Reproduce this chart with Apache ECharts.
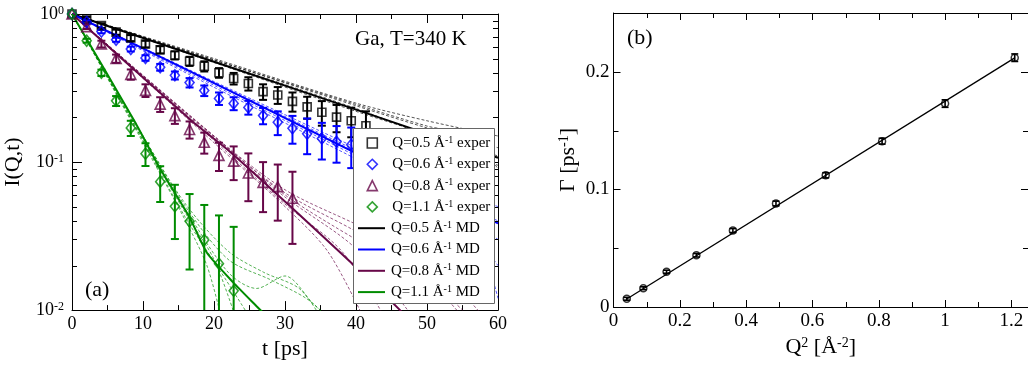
<!DOCTYPE html>
<html><head><meta charset="utf-8">
<script src="https://cdn.jsdelivr.net/npm/echarts@6/dist/echarts.min.js"></script>
<style>html,body{margin:0;padding:0;background:#fff}#c{width:1028px;height:365px}</style>
</head><body><div id="c"></div>
<script>
// ---------- Panel (a) data ----------
const tExp = [0, 2.07, 4.14, 6.21, 8.28, 10.35, 12.42, 14.49, 16.56, 18.63, 20.7, 22.77, 24.84, 26.91, 28.98, 31.05, 33.12, 35.19, 37.26, 39.33, 41.4];
const iExp05 = [1, 0.926, 0.835, 0.754, 0.688, 0.627, 0.574, 0.526, 0.480, 0.444, 0.401, 0.367, 0.339, 0.299, 0.284, 0.257, 0.236, 0.217, 0.201, 0.190, 0.176];
const eExp05 = [0, 0.03, 0.03, 0.03, 0.032, 0.032, 0.032, 0.033, 0.034, 0.035, 0.03, 0.033, 0.035, 0.036, 0.037, 0.038, 0.04, 0.041, 0.042, 0.043, 0.044];
const iExp06 = [1, 0.884, 0.761, 0.670, 0.580, 0.505, 0.437, 0.385, 0.344, 0.304, 0.269, 0.249, 0.234, 0.206, 0.186, 0.169, 0.155, 0.144, 0.137, 0.131, 0.123];
const eExp06 = [0, 0.02, 0.02, 0.021, 0.022, 0.022, 0.023, 0.024, 0.025, 0.025, 0.026, 0.025, 0.025, 0.026, 0.034, 0.036, 0.042, 0.04, 0.038, 0.04, 0.04];
const iExp08 = [1, 0.822, 0.627, 0.500, 0.391, 0.305, 0.246, 0.206, 0.166, 0.136, 0.111, 0.1015, 0.0844, 0.0729, 0.0682, 0.0570];
const eExp08 = [0, 0.03, 0.033, 0.032, 0.031, 0.03, 0.028, 0.025, 0.022, 0.022, 0.024, 0.026, 0.03, 0.027, 0.028, 0.029];
const iExp11 = [1, 0.660, 0.401, 0.259, 0.170, 0.114, 0.0737, 0.0502, 0.0398, 0.0298, 0.0206, 0.0135];
const eExp11 = [0, 0.02, 0.02, 0.02, 0.02, 0.02, 0.02, 0.02, 0.021, 0.0215, 0.023, 0.023];

// MD averaged curves [t, I]
const md05 = [[0, 1], [20, 0.476], [40, 0.226], [60, 0.107]];
const md06 = [[0, 1], [18, 0.381], [39.2, 0.12], [60, 0.0385]];
const md08 = [[0, 1], [17.04, 0.1866], [22.25, 0.1175], [30.7, 0.0504], [39.6, 0.0203], [46.2, 0.01], [47, 0.009]];
const md11 = [[0, 1], [8.87, 0.1866], [12.4, 0.0905], [16.6, 0.0419], [19.0, 0.0244], [22.7, 0.0154], [26.1, 0.0105], [27, 0.0095]];

// individual MD runs (thin dashed)
const runs05 = [
  [[0, 1], [20, 0.49], [40, 0.24], [50, 0.17], [60, 0.125]],
  [[0, 1], [20, 0.50], [40, 0.25], [50, 0.19], [60, 0.15]],
  [[0, 1], [20, 0.48], [40, 0.23], [50, 0.15], [60, 0.095]],
  [[0, 1], [20, 0.47], [40, 0.22], [50, 0.155], [60, 0.11]],
  [[0, 1], [20, 0.49], [40, 0.245], [50, 0.175], [56, 0.15], [60, 0.09]]
];
const runs06 = [
  [[0, 1], [20, 0.34], [40, 0.117], [50, 0.07], [60, 0.04]],
  [[0, 1], [20, 0.33], [40, 0.11], [50, 0.062], [60, 0.03]],
  [[0, 1], [20, 0.35], [40, 0.125], [50, 0.075], [60, 0.05]],
  [[0, 1], [20, 0.32], [40, 0.105], [50, 0.058], [57, 0.03], [60, 0.012]],
  [[0, 1], [20, 0.345], [40, 0.12], [50, 0.072], [60, 0.02]]
];
const runs08 = [
  [[0, 1], [20, 0.15], [30, 0.065], [40, 0.038], [50, 0.022], [58, 0.009]],
  [[0, 1], [20, 0.15], [30, 0.06], [40, 0.03], [50, 0.016], [55, 0.009]],
  [[0, 1], [20, 0.14], [30, 0.052], [38, 0.025], [44, 0.009]],
  [[0, 1], [20, 0.135], [30, 0.05], [36, 0.025], [41, 0.009]],
  [[0, 1], [20, 0.145], [30, 0.058], [40, 0.026], [48, 0.009]],
  [[0, 1], [20, 0.148], [30, 0.062], [40, 0.034], [48, 0.02], [56, 0.009]]
];
const runs11 = [
  [[0, 1], [10, 0.14], [16, 0.045], [20, 0.022], [23, 0.009]],
  [[0, 1], [10, 0.135], [16, 0.04], [19, 0.02], [21, 0.009]],
  [[0, 1], [10, 0.15], [16, 0.05], [22, 0.022], [28, 0.016], [33, 0.012], [36, 0.009]],
  [[0, 1], [10, 0.145], [16, 0.048], [22, 0.018], [26, 0.014], [30, 0.017], [34, 0.011], [36, 0.009]],
  [[0, 1], [10, 0.14], [16, 0.042], [21, 0.018], [25, 0.009]],
  [[0, 1], [10, 0.15], [16, 0.052], [22, 0.025], [27, 0.018], [32, 0.014], [35, 0.009]]
];

const logExpLabels = {'0': '0', '-1': '-1', '-2': '-2'};
const logMinorTicks = [0.02, 0.03, 0.04, 0.05, 0.06, 0.07, 0.08, 0.09, 0.2, 0.3, 0.4, 0.5, 0.6, 0.7, 0.8, 0.9];

// ---------- Panel (b) data ----------
const q2 = [0.04, 0.09, 0.16, 0.25, 0.36, 0.49, 0.64, 0.81, 1.0, 1.21];
const gamma = [0.007, 0.016, 0.030, 0.044, 0.065, 0.088, 0.112, 0.141, 0.173, 0.212];
const gammaErr = [0.0012, 0.0012, 0.0013, 0.0015, 0.0017, 0.002, 0.0022, 0.0025, 0.0032, 0.0032];
const gammaFit = [[0.04, 0.0068], [1.21, 0.2118]];
const bMinorX = [0.1, 0.3, 0.5, 0.7, 0.9, 1.1];
const bMinorY = [0.05, 0.15];

// ---------- style ----------
const FONT = 'Liberation Serif';
const C05 = '#000000', C06 = '#0000ff', C08 = '#670748', C11 = '#008c00';
const names = {
  e05: 'Q=0.5 Å-1 exper', e06: 'Q=0.6 Å-1 exper', e08: 'Q=0.8 Å-1 exper', e11: 'Q=1.1 Å-1 exper',
  m05: 'Q=0.5 Å-1 MD', m06: 'Q=0.6 Å-1 MD', m08: 'Q=0.8 Å-1 MD', m11: 'Q=1.1 Å-1 MD'
};

function errSeries(xs, ys, es, color, xi, yi, cap, lw, log) {
  return {
    type: 'custom', xAxisIndex: xi, yAxisIndex: yi, clip: true, z: 3, silent: true,
    data: ys.map((y, i) => [xs[i], y, es[i]]),
    encode: {x: 0, y: 1},
    renderItem: (params, api) => {
      const x = api.value(0), y = api.value(1), e = api.value(2);
      if (!e) return null;
      const lo = log ? Math.max(y - e, 1e-6) : y - e;
      const a = api.coord([x, y + e]), b = api.coord([x, lo]);
      const st = {stroke: color, lineWidth: lw};
      return {type: 'group', children: [
        {type: 'line', shape: {x1: a[0], y1: a[1], x2: b[0], y2: b[1]}, style: st},
        {type: 'line', shape: {x1: a[0] - cap, y1: a[1], x2: a[0] + cap, y2: a[1]}, style: st},
        {type: 'line', shape: {x1: b[0] - cap, y1: b[1], x2: b[0] + cap, y2: b[1]}, style: st}
      ]};
    }
  };
}
function tickSeries(vals, dir, xi, yi, other, len) {
  return {
    type: 'custom', xAxisIndex: xi, yAxisIndex: yi, clip: false, z: 6, silent: true,
    data: vals.map(v => dir === 'y' ? [other, v] : [v, other]),
    encode: {x: 0, y: 1},
    renderItem: (params, api) => {
      const cs = params.coordSys;
      const p = api.coord([api.value(0), api.value(1)]);
      const st = {stroke: '#000', lineWidth: 1};
      if (dir === 'y') {
        const y = Math.round(p[1]) + 0.5;
        return {type: 'group', children: [
          {type: 'line', shape: {x1: cs.x, y1: y, x2: cs.x + len, y2: y}, style: st},
          {type: 'line', shape: {x1: cs.x + cs.width - len, y1: y, x2: cs.x + cs.width, y2: y}, style: st}
        ]};
      }
      const x = Math.round(p[0]) + 0.5;
      return {type: 'group', children: [
        {type: 'line', shape: {x1: x, y1: cs.y + cs.height, x2: x, y2: cs.y + cs.height - len}, style: st},
        {type: 'line', shape: {x1: x, y1: cs.y, x2: x, y2: cs.y + len}, style: st}
      ]};
    }
  };
}
function dashed(runs, color) {
  return runs.map(r => ({
    type: 'line', xAxisIndex: 0, yAxisIndex: 0, data: r, showSymbol: false, symbol: 'none',
    smooth: 0.3, silent: true, z: 1,
    lineStyle: {color: color, width: 0.9, type: [3, 2], opacity: 0.75}
  }));
}
function mdLine(name, data, color) {
  return {name: name, type: 'line', xAxisIndex: 0, yAxisIndex: 0, data: data, symbol: 'none',
    showSymbol: false, smooth: 0.2, silent: true, z: 2, lineStyle: {color: color, width: 2}, itemStyle: {color: color}};
}
function expScatter(name, ys, color, symbol, size) {
  return {name: name, type: 'scatter', xAxisIndex: 0, yAxisIndex: 0, symbol: symbol, symbolSize: size,
    data: ys.map((y, i) => [tExp[i], y]), clip: false, silent: true, z: 4,
    itemStyle: {color: 'rgba(255,255,255,0)', borderColor: color, borderWidth: 1.6}};
}

const axisLine = {show: true, onZero: false, lineStyle: {color: '#000', width: 1}};
const labelFont = {fontFamily: FONT, color: '#000'};
const legendText = {fontFamily: FONT, fontSize: 15, color: '#000', lineHeight: 16,
  rich: {s: {fontFamily: FONT, fontSize: 10, color: '#000', verticalAlign: 'top', lineHeight: 9}}};
const supFmt = n => n.replace('Å-1', 'Å{s|-1}');

const option = {
  animation: false,
  backgroundColor: '#fff',
  grid: [
    {left: 72, top: 14, width: 426, height: 299},
    {left: 613.5, top: 13, width: 422, height: 294}
  ],
  xAxis: [
    {gridIndex: 0, type: 'value', min: 0, max: 60, interval: 10, position: 'bottom',
      axisLine: axisLine, splitLine: {show: false},
      axisTick: {inside: true, length: 9, lineStyle: {color: '#000'}},
      minorTick: {show: true, splitNumber: 2, length: 5, lineStyle: {color: '#000'}},
      axisLabel: Object.assign({fontSize: 18, margin: 5}, labelFont),
      name: 't [ps]', nameLocation: 'middle', nameGap: 19,
      nameTextStyle: {fontFamily: FONT, fontSize: 22, color: '#000'}},
    {gridIndex: 0, type: 'value', min: 0, max: 60, interval: 10, position: 'top',
      axisLine: axisLine, splitLine: {show: false},
      axisTick: {inside: true, length: 9, lineStyle: {color: '#000'}},
      minorTick: {show: true, splitNumber: 2, length: 5, lineStyle: {color: '#000'}},
      axisLabel: {show: false}},
    {gridIndex: 1, type: 'value', min: 0, max: 1.25, interval: 0.2, position: 'bottom',
      axisLine: axisLine, splitLine: {show: false},
      axisTick: {inside: true, length: 7, lineStyle: {color: '#000'}},
      axisLabel: Object.assign({fontSize: 19, margin: 5, showMaxLabel: false}, labelFont),
      name: 'Q{s|2} [Å{s|-2}]', nameLocation: 'middle', nameGap: 18,
      nameTextStyle: {fontFamily: FONT, fontSize: 22, color: '#000',
        rich: {s: {fontFamily: FONT, fontSize: 14, color: '#000', verticalAlign: 'top', lineHeight: 14}}}},
    {gridIndex: 1, type: 'value', min: 0, max: 1.25, interval: 0.2, position: 'top',
      axisLine: axisLine, splitLine: {show: false},
      axisTick: {inside: true, length: 7, lineStyle: {color: '#000'}},
      axisLabel: {show: false}}
  ],
  yAxis: [
    {gridIndex: 0, type: 'log', logBase: 10, min: 0.01, max: 1, position: 'left',
      axisLine: axisLine, splitLine: {show: false},
      axisTick: {inside: true, length: 10, lineStyle: {color: '#000'}},
      axisLabel: {margin: 8, formatter: v => '{b|10}{s|' + logExpLabels[String(Math.round(Math.log10(v)))] + '}',
        rich: {b: {fontFamily: FONT, fontSize: 18, color: '#000'},
               s: {fontFamily: FONT, fontSize: 12, color: '#000', verticalAlign: 'top', lineHeight: 12}}},
      name: 'I(Q,t)', nameLocation: 'middle', nameGap: 48,
      nameTextStyle: {fontFamily: FONT, fontSize: 22, color: '#000'}},
    {gridIndex: 0, type: 'log', logBase: 10, min: 0.01, max: 1, position: 'right',
      axisLine: axisLine, splitLine: {show: false},
      axisTick: {inside: true, length: 10, lineStyle: {color: '#000'}},
      axisLabel: {show: false}},
    {gridIndex: 1, type: 'value', min: 0, max: 0.25, interval: 0.1, position: 'left',
      axisLine: axisLine, splitLine: {show: false},
      axisTick: {inside: true, length: 7, lineStyle: {color: '#000'}},
      axisLabel: Object.assign({fontSize: 19, margin: 4, showMaxLabel: false}, labelFont),
      name: 'Γ [ps{s|-1}]', nameLocation: 'middle', nameGap: 34,
      nameTextStyle: {fontFamily: FONT, fontSize: 22, color: '#000',
        rich: {s: {fontFamily: FONT, fontSize: 14, color: '#000', verticalAlign: 'top', lineHeight: 14}}}},
    {gridIndex: 1, type: 'value', min: 0, max: 0.25, interval: 0.1, position: 'right',
      axisLine: axisLine, splitLine: {show: false},
      axisTick: {inside: true, length: 7, lineStyle: {color: '#000'}},
      axisLabel: {show: false}}
  ],
  legend: [
    {left: 366.5, top: 135, orient: 'vertical', selectedMode: false, z: 8,
      padding: 0, itemGap: 5.3, itemWidth: 10, itemHeight: 10,
      data: [
        {name: names.e05, icon: 'rect', itemStyle: {color: 'rgba(255,255,255,0)', borderColor: C05, borderWidth: 1.6}},
        {name: names.e06, icon: 'diamond', itemStyle: {color: 'rgba(255,255,255,0)', borderColor: C06, borderWidth: 1.6}},
        {name: names.e08, icon: 'triangle', itemStyle: {color: 'rgba(255,255,255,0)', borderColor: C08, borderWidth: 1.6}},
        {name: names.e11, icon: 'diamond', itemStyle: {color: 'rgba(255,255,255,0)', borderColor: C11, borderWidth: 1.6}}
      ],
      formatter: supFmt,
      textStyle: Object.assign({padding: [0, 0, 0, 10]}, legendText)},
    {left: 358, top: 220.2, orient: 'vertical', selectedMode: false, z: 8,
      padding: 0, itemGap: 5.3, itemWidth: 27, itemHeight: 2,
      data: [
        {name: names.m05, icon: 'rect', itemStyle: {color: C05}},
        {name: names.m06, icon: 'rect', itemStyle: {color: C06}},
        {name: names.m08, icon: 'rect', itemStyle: {color: C08}},
        {name: names.m11, icon: 'rect', itemStyle: {color: C11}}
      ],
      formatter: supFmt,
      textStyle: Object.assign({padding: [0, 0, 0, 1]}, legendText)}
  ],
  graphic: [
    {type: 'rect', z: 7, silent: true, shape: {x: 353.5, y: 128.5, width: 141, height: 175},
      style: {fill: '#fff', stroke: '#666', lineWidth: 1}},
    {type: 'text', left: 85, top: 279, style: {text: '(a)', fontFamily: FONT, fontSize: 22, fill: '#000'}},
    {type: 'text', left: 355, top: 29, style: {text: 'Ga, T=340 K', fontFamily: FONT, fontSize: 21, fill: '#000'}},
    {type: 'text', left: 627, top: 27, style: {text: '(b)', fontFamily: FONT, fontSize: 22, fill: '#000'}}
  ],
  series: [].concat(
    dashed(runs05, C05), dashed(runs06, C06), dashed(runs08, C08), dashed(runs11, C11),
    [mdLine(names.m05, md05, C05), mdLine(names.m06, md06, C06), mdLine(names.m08, md08, C08), mdLine(names.m11, md11, C11)],
    [errSeries(tExp, iExp05, eExp05, C05, 0, 0, 4, 2, true),
     errSeries(tExp, iExp06, eExp06, C06, 0, 0, 4, 2, true),
     errSeries(tExp, iExp08, eExp08, C08, 0, 0, 4, 2, true),
     errSeries(tExp, iExp11, eExp11, C11, 0, 0, 4, 2, true)],
    [expScatter(names.e05, iExp05, C05, 'rect', 8),
     expScatter(names.e06, iExp06, C06, 'diamond', [9, 11]),
     expScatter(names.e08, iExp08, C08, 'triangle', 10),
     expScatter(names.e11, iExp11, C11, 'diamond', [9, 11])],
    [tickSeries(logMinorTicks, 'y', 0, 0, 0, 5)],
    // panel (b)
    [{type: 'line', xAxisIndex: 2, yAxisIndex: 2, data: gammaFit, symbol: 'none', silent: true, z: 2,
      lineStyle: {color: '#000', width: 1.3}},
     errSeries(q2, gamma, gammaErr, '#000', 2, 2, 3.5, 1.6, false),
     {type: 'scatter', xAxisIndex: 2, yAxisIndex: 2, symbol: 'circle', symbolSize: 7, silent: true, z: 4,
      data: gamma.map((g, i) => [q2[i], g]),
      itemStyle: {color: 'rgba(255,255,255,0)', borderColor: '#000', borderWidth: 1.5}},
     tickSeries(bMinorX, 'x', 2, 2, 0, 5),
     tickSeries(bMinorY, 'y', 2, 2, 0, 5)]
  )
};
const chart = echarts.init(document.getElementById('c'));
chart.setOption(option);
</script></body></html>
